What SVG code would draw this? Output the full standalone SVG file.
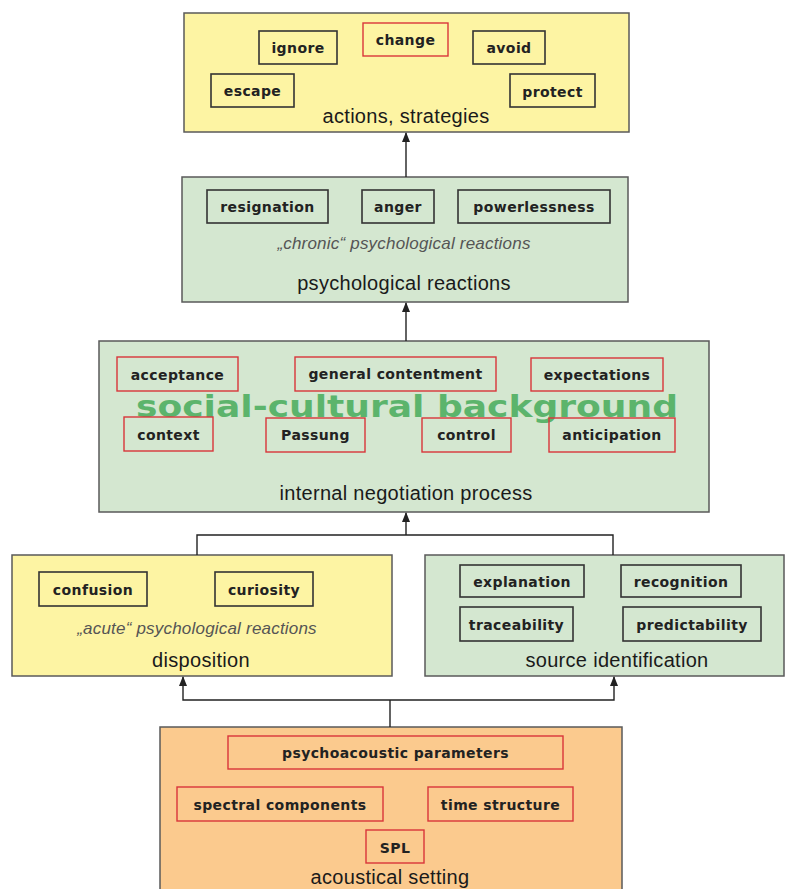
<svg xmlns="http://www.w3.org/2000/svg" width="785" height="889" viewBox="0 0 785 889">
<defs>
<marker id="ah" markerWidth="10" markerHeight="8" refX="9" refY="4" orient="auto-start-reverse" markerUnits="userSpaceOnUse" viewBox="0 0 10 8">
<path d="M0,0 L10,4 L0,8 Z" fill="#222"/>
</marker>
<style>
.outer{stroke:#5a5a5a;stroke-width:1.5}
.yel{fill:#fdf4a3}
.grn{fill:#d4e7d0}
.org{fill:#fbca8e}
.ib{fill:none;stroke:#333;stroke-width:1.6}
.rb{fill:none;stroke:#d9353a;stroke-width:1.4}
.it{font-family:"DejaVu Sans",Verdana,sans-serif;font-weight:bold;font-size:14px;fill:#222;text-anchor:middle;letter-spacing:0.4px}
.tt{font-family:"Liberation Sans",Arial,sans-serif;font-size:20px;fill:#1a1a1a;text-anchor:middle;letter-spacing:0.3px}
.sub{font-family:"Liberation Sans",Arial,sans-serif;font-style:italic;font-size:17px;fill:#555;text-anchor:middle;letter-spacing:0.2px}
.big{font-family:"DejaVu Sans",Verdana,sans-serif;font-weight:bold;font-size:31px;fill:#5cb46c;text-anchor:middle}
.con{fill:none;stroke:#222;stroke-width:1.4}
</style>
</defs>
<rect width="785" height="889" fill="#ffffff"/>

<g id="actions">
<rect class="outer yel" x="184" y="13" width="445" height="119"/>
<rect class="ib" x="259" y="31" width="78" height="33"/><text class="it" x="298" y="53">ignore</text>
<rect class="rb" x="363" y="23" width="85" height="33"/><text class="it" x="405.5" y="45">change</text>
<rect class="ib" x="473" y="31" width="72" height="33"/><text class="it" x="509" y="53">avoid</text>
<rect class="ib" x="211" y="74" width="83" height="33"/><text class="it" x="252.5" y="96">escape</text>
<rect class="ib" x="510" y="74" width="85" height="33"/><text class="it" x="552.5" y="97">protect</text>
<text class="tt" x="406" y="123">actions, strategies</text>
</g>

<g id="psych">
<rect class="outer grn" x="182" y="177" width="446" height="125"/>
<rect class="ib" x="207" y="190" width="121" height="33"/><text class="it" x="267.5" y="212">resignation</text>
<rect class="ib" x="362" y="190" width="72" height="33"/><text class="it" x="398" y="212">anger</text>
<rect class="ib" x="458" y="190" width="152" height="33"/><text class="it" x="534" y="212">powerlessness</text>
<text class="sub" x="404" y="249">„chronic“ psychological reactions</text>
<text class="tt" x="404" y="290">psychological reactions</text>
</g>

<g id="negotiation">
<rect class="outer grn" x="99" y="341" width="610" height="171"/>
<text class="big" x="407" y="417" textLength="542" lengthAdjust="spacingAndGlyphs">social-cultural background</text>
<rect class="rb" x="117" y="357" width="121" height="34"/><text class="it" x="177.5" y="380">acceptance</text>
<rect class="rb" x="295" y="357" width="201" height="34"/><text class="it" x="395.5" y="379">general contentment</text>
<rect class="rb" x="531" y="358" width="132" height="33"/><text class="it" x="597" y="380">expectations</text>
<rect class="rb" x="124" y="417" width="89" height="34"/><text class="it" x="168.5" y="440">context</text>
<rect class="rb" x="266" y="418" width="99" height="34"/><text class="it" x="315.5" y="440">Passung</text>
<rect class="rb" x="422" y="418" width="89" height="34"/><text class="it" x="466.5" y="440">control</text>
<rect class="rb" x="549" y="418" width="126" height="34"/><text class="it" x="612" y="440">anticipation</text>
<text class="tt" x="406" y="500">internal negotiation process</text>
</g>

<g id="disposition">
<rect class="outer yel" x="12" y="555" width="380" height="121"/>
<rect class="ib" x="39" y="572" width="108" height="34"/><text class="it" x="93" y="595">confusion</text>
<rect class="ib" x="215" y="572" width="98" height="34"/><text class="it" x="264" y="595">curiosity</text>
<text class="sub" x="197" y="634">„acute“ psychological reactions</text>
<text class="tt" x="201" y="667">disposition</text>
</g>

<g id="source">
<rect class="outer grn" x="425" y="555" width="359" height="121"/>
<rect class="ib" x="460" y="565" width="124" height="32"/><text class="it" x="522" y="587">explanation</text>
<rect class="ib" x="621" y="565" width="120" height="32"/><text class="it" x="681" y="587">recognition</text>
<rect class="ib" x="460" y="607" width="113" height="34"/><text class="it" x="516.5" y="630">traceability</text>
<rect class="ib" x="623" y="607" width="138" height="34"/><text class="it" x="692" y="630">predictability</text>
<text class="tt" x="617" y="667">source identification</text>
</g>

<g id="acoustic">
<rect class="outer org" x="160" y="727" width="462" height="170"/>
<rect class="rb" x="228" y="736" width="335" height="33"/><text class="it" x="395.5" y="758">psychoacoustic parameters</text>
<rect class="rb" x="177" y="787" width="206" height="34"/><text class="it" x="280" y="810">spectral components</text>
<rect class="rb" x="428" y="787" width="145" height="34"/><text class="it" x="500.5" y="810">time structure</text>
<rect class="rb" x="366" y="830" width="58" height="33"/><text class="it" x="395" y="853">SPL</text>
<text class="tt" x="390" y="884">acoustical setting</text>
</g>

<g id="connectors">
<line class="con" x1="406" y1="177" x2="406" y2="133" marker-end="url(#ah)"/>
<line class="con" x1="406" y1="341" x2="406" y2="303" marker-end="url(#ah)"/>
<polyline class="con" points="197,555 197,535 613,535 613,555"/>
<line class="con" x1="406" y1="535" x2="406" y2="513" marker-end="url(#ah)"/>
<line class="con" x1="390" y1="727" x2="390" y2="700"/>
<polyline class="con" points="183,677 183,700 614,700 614,677" marker-start="url(#ah)" marker-end="url(#ah)"/>
</g>
</svg>
